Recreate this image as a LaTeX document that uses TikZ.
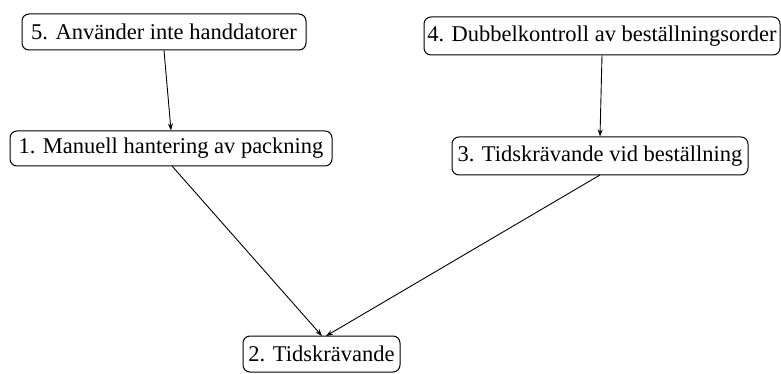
\documentclass[tikz,border=0pt]{standalone}
\usepackage{fontspec}
\setmainfont{Liberation Serif}
\usetikzlibrary{arrows.meta}
\begin{document}
\begin{tikzpicture}[x=1pt,y=-1pt,
  box/.style={draw,rounded corners=7pt,line width=1pt,inner sep=0pt,font=\rmfamily\fontsize{22.5}{24}\selectfont},
  conn/.style={line width=0.9pt,-{Stealth[length=7pt,width=5pt]}}]
\useasboundingbox (0,0) rectangle (781,374);
\node[box,minimum width=284pt,minimum height=36pt] (n5) at (164,32) {5. Använder inte handdatorer};
\node[box,minimum width=322pt,minimum height=35pt] (n1) at (171,148.5) {1. Manuell hantering av packning};
\node[box,minimum width=356pt,minimum height=38pt] (n4) at (602,36) {4. Dubbelkontroll av beställningsorder};
\node[box,minimum width=296pt,minimum height=38pt] (n3) at (600,156) {3. Tidskrävande vid beställning};
\node[box,minimum width=157pt,minimum height=36pt] (n2) at (321.5,354) {2. Tidskrävande};
\draw[conn] (n5.south) -- (n1.north);
\draw[conn] (n4.south) -- (n3.north);
\draw[conn] (172,166) -- (322,336);
\draw[conn] (600,175) -- (326,336);
\end{tikzpicture}
\end{document}
